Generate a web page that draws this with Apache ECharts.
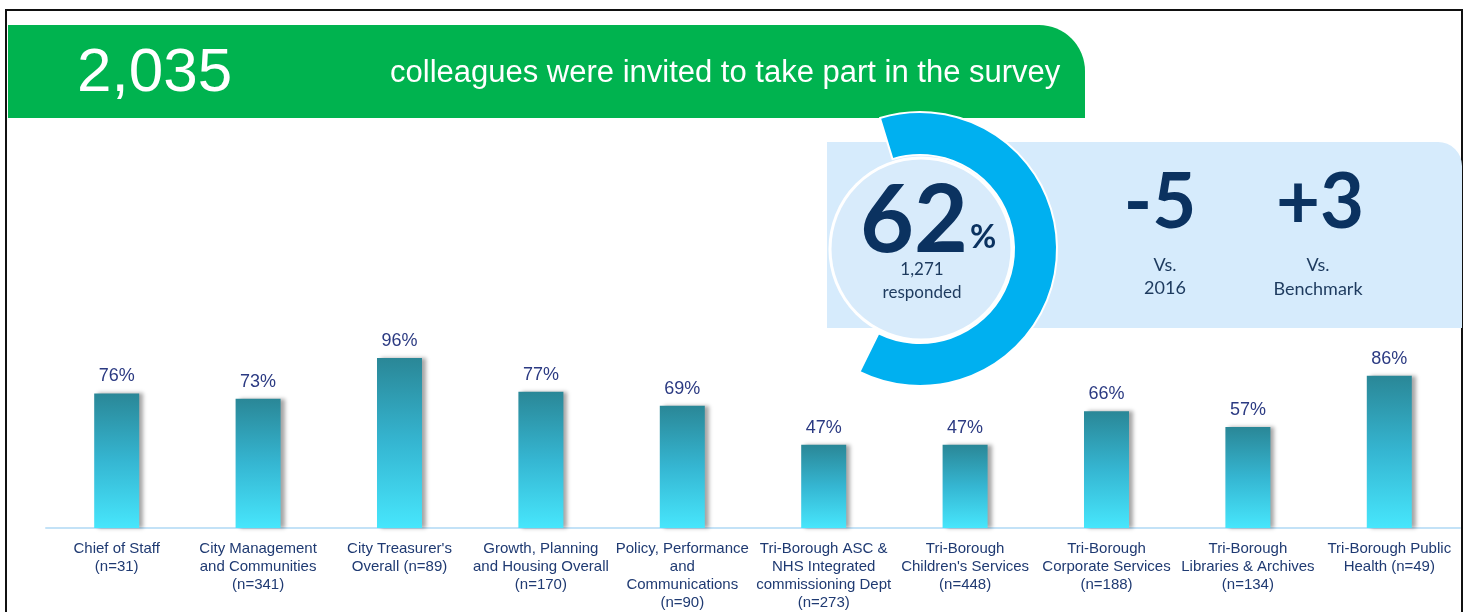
<!DOCTYPE html>
<html>
<head>
<meta charset="utf-8">
<script src="https://cdn.jsdelivr.net/npm/echarts@6/dist/echarts.min.js"></script>
<style>
html,body{margin:0;padding:0;background:#fff;}
#chart{width:1471px;height:612px;}
</style>
</head>
<body>
<div id="chart"></div>
<script>
// ---- data ----
const departments = [
  "Chief of Staff",
  "City Management\nand Communities",
  "City Treasurer's\nOverall",
  "Growth, Planning\nand Housing Overall",
  "Policy, Performance\nand\nCommunications",
  "Tri-Borough ASC &\nNHS Integrated\ncommissioning Dept",
  "Tri-Borough\nChildren's Services",
  "Tri-Borough\nCorporate Services",
  "Tri-Borough\nLibraries & Archives",
  "Tri-Borough Public\nHealth"
];
const respondents = [31, 341, 89, 170, 90, 273, 448, 188, 134, 49];
const nOnSameLine = [false, false, true, false, false, false, false, false, false, true];
const responseRates = [76, 73, 96, 77, 69, 47, 47, 66, 57, 86];
const invited = "2,035";
const overallRate = 62;
const responded = "1,271";
const vs2016 = "-5";
const vsBenchmark = "+3";

const categories = departments.map((d, i) =>
  d + (nOnSameLine[i] ? " " : "\n") + "(n=" + respondents[i] + ")");

const chart = echarts.init(document.getElementById('chart'), null, {renderer: 'canvas'});
const navy = '#0b3260';
const labelFont = '"Liberation Sans", Arial, sans-serif';

const option = {
  animation: false,
  grid: {left: 46, right: 11, top: 351, height: 179, containLabel: false},
  xAxis: {
    type: 'category',
    data: categories,
    axisLine: {show: true, lineStyle: {color: '#c3e2f7', width: 2}},
    axisTick: {show: false},
    axisLabel: {
      interval: 0, margin: 12, color: '#1f3a72',
      fontFamily: labelFont, fontSize: 15, lineHeight: 18
    }
  },
  yAxis: {type: 'value', min: 0, max: 100, show: false, splitLine: {show: false}},
  series: [
    {
      type: 'bar',
      data: responseRates,
      barWidth: 45,
      itemStyle: {
        color: new echarts.graphic.LinearGradient(0, 0, 0, 1, [
          {offset: 0, color: '#2a8797'},
          {offset: 0.5, color: '#35b6d2'},
          {offset: 1, color: '#47e6fc'}
        ]),
        shadowColor: 'rgba(0,0,0,0.35)', shadowBlur: 4, shadowOffsetX: 4, shadowOffsetY: 0
      },
      label: {
        show: true, position: 'top', distance: 8,
        formatter: p => p.value + '%',
        color: '#2b3a82', fontSize: 18, fontFamily: '"Liberation Sans", Arial, sans-serif'
      }
    },
    {
      type: 'pie',
      center: [920, 249],
      radius: [94, 137],
      startAngle: 107,
      clockwise: true,
      silent: true,
      z: 5,
      label: {show: false}, labelLine: {show: false},
      data: [
        {value: overallRate, itemStyle: {color: '#00b0f0', borderColor: '#ffffff', borderWidth: 2}},
        {value: 100 - overallRate, itemStyle: {color: 'rgba(0,0,0,0)'}}
      ]
    }
  ],
  graphic: [
    // frame
    {type: 'rect', z: 0, shape: {x: 6, y: 10, width: 1456, height: 640},
     style: {fill: 'none', stroke: '#111', lineWidth: 2}},
    // green banner
    {type: 'rect', z: 0, shape: {x: 8, y: 25, width: 1077, height: 93, r: [0, 46, 0, 0]},
     style: {fill: '#00b34f'}},
    {type: 'text', z: 1, left: 77, top: 43,
     style: {text: invited, fill: '#fff', font: '62px "Liberation Sans", Arial, sans-serif'}},
    {type: 'text', z: 1, left: 390, top: 58,
     style: {text: 'colleagues were invited to take part in the survey', fill: '#fff',
             font: '31px "Liberation Sans", Arial, sans-serif'}},
    // light blue panel
    {type: 'rect', z: 0, shape: {x: 827, y: 142, width: 635, height: 186, r: [0, 24, 0, 0]},
     style: {fill: '#d6ebfc'}},
    // inner disc
    {type: 'circle', z: 10, shape: {cx: 921, cy: 249, r: 91},
     style: {fill: '#d8ebfb', stroke: '#ffffff', lineWidth: 3}},
    {type: 'text', z: 11, x: 968, y: 222,
     style: {text: String(overallRate), fill: navy, font: 'bold 93px Lato, "Open Sans", sans-serif',
             textAlign: 'right', textVerticalAlign: 'middle'}},
    {type: 'text', z: 11, x: 970, y: 238,
     style: {text: '%', fill: navy, font: 'bold 32px Lato, "Open Sans", sans-serif',
             textAlign: 'left', textVerticalAlign: 'middle'}},
    {type: 'text', z: 11, x: 922, y: 270,
     style: {text: responded, fill: '#1d3a5e', font: '17px Lato, "Open Sans", sans-serif',
             textAlign: 'center', textVerticalAlign: 'middle'}},
    {type: 'text', z: 11, x: 922, y: 293,
     style: {text: 'responded', fill: '#1d3a5e', font: '17px Lato, "Open Sans", sans-serif',
             textAlign: 'center', textVerticalAlign: 'middle'}},
    // comparisons
    {type: 'text', z: 11, x: 1160, y: 203,
     style: {text: vs2016, fill: navy, font: 'bold 76px Lato, "Open Sans", sans-serif',
             textAlign: 'center', textVerticalAlign: 'middle'}},
    {type: 'text', z: 11, x: 1320, y: 203,
     style: {text: vsBenchmark, fill: navy, font: 'bold 76px Lato, "Open Sans", sans-serif',
             textAlign: 'center', textVerticalAlign: 'middle'}},
    {type: 'text', z: 11, x: 1165, y: 265,
     style: {text: 'Vs.', fill: '#1d3a5e', font: '18px Lato, "Open Sans", sans-serif',
             textAlign: 'center', textVerticalAlign: 'middle'}},
    {type: 'text', z: 11, x: 1165, y: 288,
     style: {text: '2016', fill: '#1d3a5e', font: '18px Lato, "Open Sans", sans-serif',
             textAlign: 'center', textVerticalAlign: 'middle'}},
    {type: 'text', z: 11, x: 1318, y: 265,
     style: {text: 'Vs.', fill: '#1d3a5e', font: '18px Lato, "Open Sans", sans-serif',
             textAlign: 'center', textVerticalAlign: 'middle'}},
    {type: 'text', z: 11, x: 1318, y: 289,
     style: {text: 'Benchmark', fill: '#1d3a5e', font: '18px Lato, "Open Sans", sans-serif',
             textAlign: 'center', textVerticalAlign: 'middle'}}
  ]
};
chart.setOption(option);
</script>
</body>
</html>
